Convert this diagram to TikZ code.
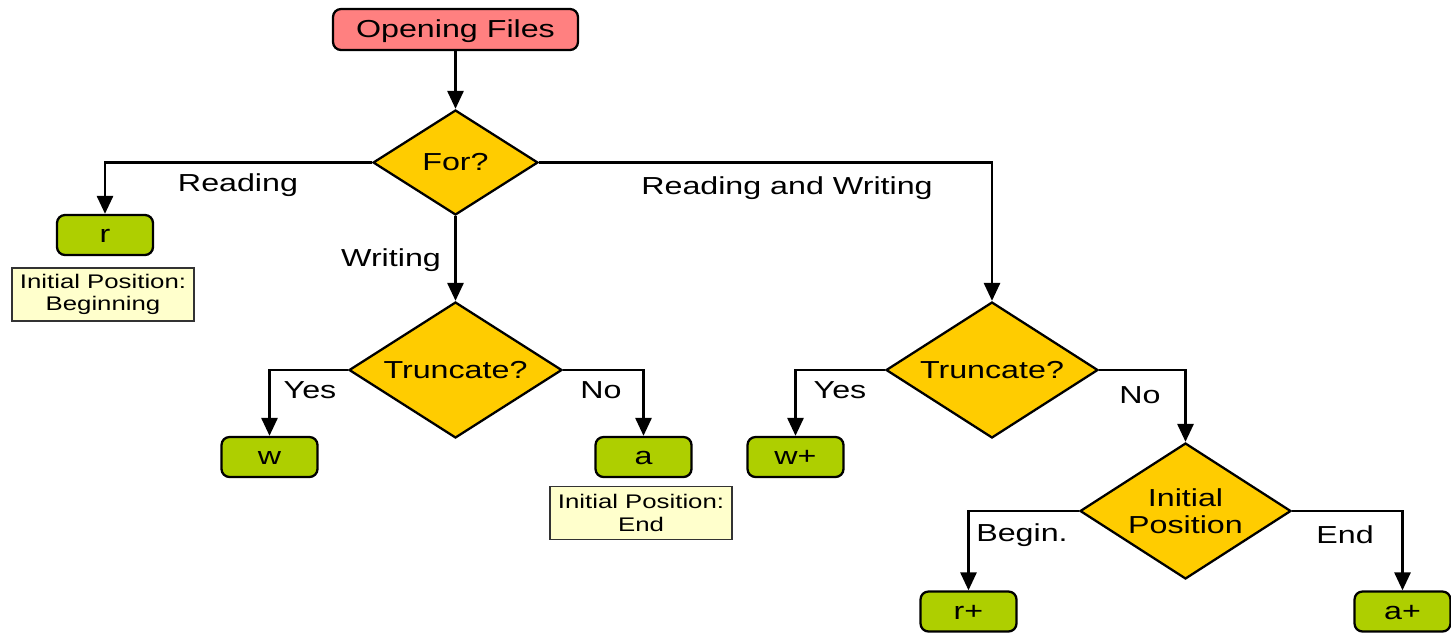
\documentclass[tikz,border=0pt]{standalone}
\usepackage{fontspec}
\setmainfont{Liberation Sans}[FakeStretch=1.31]
\usetikzlibrary{shapes.geometric,arrows.meta}

\definecolor{startred}{HTML}{FF8080}
\definecolor{decide}{HTML}{FFCC00}
\definecolor{modegreen}{HTML}{AECF00}
\definecolor{notebg}{HTML}{FFFFCC}

\tikzset{
  base/.style={draw=black, line width=1.3pt, text=black, inner sep=0pt},
  startbox/.style={base, rounded corners=0.16cm, fill=startred,
    minimum width=4.9cm, minimum height=0.82cm, text height=0.36cm, text depth=0.06cm,
    font=\fontsize{14}{16}\selectfont},
  modebox/.style={base, rounded corners=0.16cm, fill=modegreen,
    minimum width=1.92cm, minimum height=0.8cm, text height=0.36cm, text depth=0.06cm,
    font=\fontsize{14}{16}\selectfont},
  choice/.style={base, diamond, fill=decide, aspect=1.57,
    font=\fontsize{14}{15.4}\selectfont, align=center},
  notebox/.style={draw=black!80, line width=0.6pt, fill=notebg, inner sep=0pt,
    minimum width=3.64cm, minimum height=1.06cm, align=center,
    font=\fontsize{11.2}{12.6}\selectfont},
  branch/.style={font=\fontsize{14}{16}\selectfont, inner sep=0pt},
  flow/.style={line width=1.6pt, draw=black,
    -{Triangle[length=0.36cm,width=0.32cm]}}
}

\begin{document}
\begin{tikzpicture}[x=0.02cm, y=-0.02cm]
  \useasboundingbox (0,0) rectangle (1451,633);

  % start
  \node[startbox] (open) at (455.5,29.5) {Opening Files};

  % decisions
  \node[choice, minimum width=3.3cm, minimum height=2.1cm] (for) at (455.5,162.5) {For?};
  \node[choice, minimum width=4.26cm, minimum height=2.72cm] (truncw) at (455.5,370) {Truncate?};
  \node[choice, minimum width=4.24cm, minimum height=2.72cm] (truncrw) at (992,370) {Truncate?};
  \node[choice, minimum width=4.22cm, minimum height=2.72cm] (initpos) at (1185.5,511) {Initial\\Position};

  % resulting modes
  \node[modebox] (r) at (105,235) {r};
  \node[modebox] (w) at (269.5,457) {w};
  \node[modebox] (a) at (643.5,457) {a};
  \node[modebox] (wplus) at (795.5,457) {w+};
  \node[modebox] (rplus) at (968.5,611.5) {r+};
  \node[modebox] (aplus) at (1402.5,611.5) {a+};

  % notes
  \node[notebox] (noteb) at (103,294.5) {Initial Position:\\Beginning};
  \node[notebox] (notee) at (641,513) {Initial Position:\\End};

  % connectors
  \draw[flow] (open) -- (for);
  \draw[flow] (for.west) -| (r.north);
  \draw[flow] (for.south) -- (truncw.north);
  \draw[flow] (for.east) -| (truncrw.north);
  \draw[flow] (truncw.west) -| (w.north);
  \draw[flow] (truncw.east) -| (a.north);
  \draw[flow] (truncrw.west) -| (wplus.north);
  \draw[flow] (truncrw.east) -| (initpos.north);
  \draw[flow] (initpos.west) -| (rplus.north);
  \draw[flow] (initpos.east) -| (aplus.north);

  % branch labels
  \node[branch] (lread) at (238,185.5) {Reading};
  \node[branch] (lwrite) at (391,260.5) {Writing};
  \node[branch] (lrw) at (787,188.5) {Reading and Writing};
  \node[branch] (lyes1) at (310,390) {Yes};
  \node[branch] (lno1) at (601,390.5) {No};
  \node[branch] (lyes2) at (840,390) {Yes};
  \node[branch] (lno2) at (1140,395.5) {No};
  \node[branch] (lbegin) at (1022,535.5) {Begin.};
  \node[branch] (lend) at (1345,534.5) {End};
\end{tikzpicture}
\end{document}
